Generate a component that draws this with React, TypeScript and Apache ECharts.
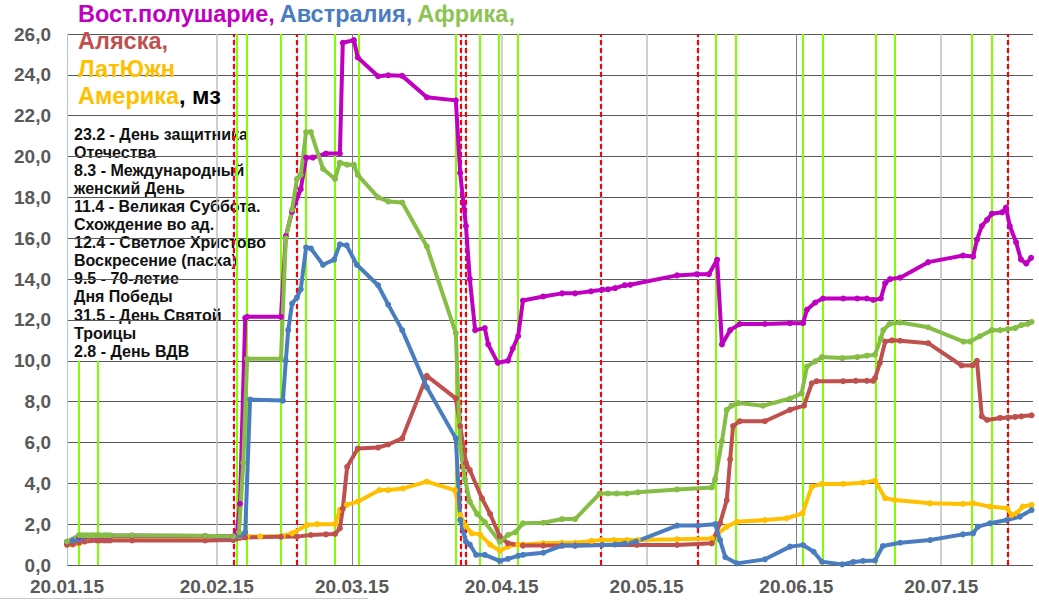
import React, { useEffect, useRef } from "react";
import * as echarts from "echarts";

// x values are days counted from 20.01.2015
const xTickDays = [0, 31, 59, 90, 120, 151, 181];
const xTickLabels = ["20.01.15", "20.02.15", "20.03.15", "20.04.15", "20.05.15", "20.06.15", "20.07.15"];
const xDarkTickDays = [59, 151];

const seriesNames = ["Вост.полушарие", "Австралия", "Африка", "Аляска", "ЛатЮжн Америка"];
const seriesColors = ["#C000C0", "#4A7DC0", "#86BD45", "#C0504D", "#FFC000"];

const vostData = [
  [0, 1.12], [2.5, 1.4], [3.1, 1.43], [3.7, 1.43], [4.3, 1.43], [5.0, 1.43], [5.6, 1.43], [6.2, 1.43], [6.8, 1.43],
  [7.7, 1.43], [8.3, 1.43], [8.9, 1.43], [13.5, 1.43], [28.6, 1.42], [34.4, 1.4], [35.2, 1.6], [35.8, 3.0],
  [36.9, 12.1], [37.3, 12.15], [44.3, 12.15], [45.3, 16.1], [46.6, 17.3], [48.4, 18.4], [49.5, 19.95], [50.9, 19.95],
  [53.6, 20.15], [56.5, 20.15], [57.1, 25.57], [59.4, 25.7], [60.2, 24.85], [64.4, 23.93], [66.5, 23.98], [69.4, 23.95],
  [74.5, 22.9], [80.5, 22.75], [81.4, 19.2], [82.6, 16.6], [83.4, 14.0], [84.5, 11.5], [86.5, 11.6], [87.2, 10.8],
  [89.2, 9.9], [91.3, 10.0], [92.3, 10.6], [93.4, 11.2], [94.4, 12.95], [98.6, 13.15], [102.5, 13.3], [105.2, 13.3],
  [108.5, 13.4], [110.8, 13.48], [112.0, 13.5], [113.5, 13.56], [115.5, 13.7], [116.6, 13.72], [126.3, 14.18],
  [130.4, 14.24], [132.9, 14.24], [134.6, 14.95], [135.6, 10.8], [137.3, 11.5], [139.3, 11.8], [144.5, 11.8],
  [149.7, 11.84], [152.4, 11.84], [153.2, 12.5], [154.9, 12.85], [156.5, 13.05], [160.7, 13.05], [163.6, 13.05],
  [165.6, 13.05], [166.9, 12.98], [168.5, 13.05], [169.4, 13.8], [170.4, 14.0], [172.5, 14.07], [178.3, 14.83],
  [185.5, 15.15], [187.6, 15.1], [188.4, 15.93], [189.4, 16.6], [190.5, 16.9], [191.5, 17.2], [193.6, 17.27],
  [194.4, 17.5], [195.2, 16.6], [196.5, 15.8], [197.5, 14.96], [198.6, 14.76], [199.6, 15.04],
];

const australiaData = [
  [0, 1.14], [1.2, 1.2], [2.5, 1.26], [3.1, 1.35], [3.7, 1.4], [4.3, 1.42], [5.0, 1.43], [6.2, 1.43], [8.9, 1.43],
  [13.5, 1.43], [28.6, 1.42], [34.4, 1.38], [35.8, 1.45], [36.9, 1.6], [37.9, 8.1], [44.7, 8.05], [45.3, 10.0],
  [45.8, 11.5], [46.6, 12.8], [47.6, 13.1], [48.4, 13.5], [49.5, 15.55], [50.5, 15.5], [53.0, 14.7], [55.3, 14.95],
  [56.5, 15.7], [57.9, 15.65], [60.0, 14.7], [64.4, 13.7], [66.5, 12.75], [69.4, 11.5], [74.5, 8.7], [80.5, 6.2],
  [81.4, 2.2], [82.6, 1.14], [83.4, 1.0], [84.7, 0.5], [86.5, 0.5], [89.6, 0.2], [91.3, 0.3], [93.4, 0.45],
  [94.4, 0.5], [98.6, 0.6], [102.5, 0.95], [105.2, 0.95], [110.8, 0.98], [113.5, 1.0], [115.5, 1.05], [117.8, 1.14],
  [126.3, 1.93], [130.6, 1.93], [134.2, 2.0], [135.2, 1.22], [136.3, 0.38], [138.7, 0.08], [144.5, 0.28],
  [149.7, 0.9], [152.4, 0.98], [154.6, 0.65], [156.3, 0.16], [160.5, 0.03], [162.8, 0.15], [164.8, 0.2],
  [167.3, 0.22], [168.9, 0.93], [172.5, 1.09], [178.7, 1.22], [185.5, 1.5], [187.6, 1.55], [188.6, 1.88],
  [191.1, 2.04], [194.6, 2.2], [197.3, 2.37], [199.7, 2.69],
];

const africaData = [
  [0, 1.14], [2.5, 1.46], [3.1, 1.45], [3.7, 1.45], [4.3, 1.45], [5.0, 1.45], [5.6, 1.45], [6.2, 1.45], [6.8, 1.45],
  [7.7, 1.45], [8.3, 1.45], [8.9, 1.45], [13.5, 1.45], [28.6, 1.43], [34.4, 1.4], [35.6, 1.6], [36.5, 5.0],
  [37.3, 10.1], [44.3, 10.1], [45.3, 16.0], [46.6, 17.4], [47.6, 18.9], [48.4, 19.1], [49.5, 21.2], [50.5, 21.2],
  [53.0, 19.4], [55.5, 18.9], [56.5, 19.7], [58.0, 19.6], [59.4, 19.6], [60.2, 19.1], [64.4, 18.0], [66.5, 17.8],
  [69.4, 17.75], [74.5, 15.6], [80.5, 11.35], [81.4, 5.8], [82.4, 4.2], [83.4, 3.1], [84.9, 2.5], [86.5, 2.1],
  [89.6, 1.14], [91.3, 1.47], [92.8, 1.6], [94.4, 2.04], [98.6, 2.07], [102.5, 2.25], [105.2, 2.25], [110.3, 3.5],
  [112.0, 3.5], [113.8, 3.5], [115.9, 3.5], [118.2, 3.56], [126.3, 3.7], [133.5, 3.8], [134.2, 4.2], [135.6, 6.06],
  [136.6, 7.6], [137.6, 7.8], [139.0, 7.93], [144.1, 7.8], [149.7, 8.15], [152.1, 8.4], [153.2, 9.72], [154.9, 9.97],
  [156.3, 10.18], [160.5, 10.13], [163.6, 10.18], [165.6, 10.25], [167.3, 10.3], [168.5, 11.1], [169.0, 11.5],
  [170.3, 11.8], [172.5, 11.87], [178.3, 11.64], [185.6, 10.94], [187.0, 10.94], [189.0, 11.2], [191.5, 11.5],
  [193.2, 11.5], [194.8, 11.55], [196.3, 11.6], [197.6, 11.75], [198.9, 11.8], [199.7, 11.9],
];

const alaskaData = [
  [0, 1.0], [1.2, 1.02], [2.5, 1.1], [3.7, 1.15], [6.2, 1.2], [6.8, 1.2], [7.7, 1.2], [8.3, 1.2], [8.9, 1.2],
  [13.5, 1.2], [28.6, 1.2], [34.4, 1.22], [36.9, 1.35], [44.3, 1.38], [47.6, 1.39], [50.5, 1.47], [53.6, 1.5],
  [55.5, 1.52], [56.5, 1.8], [57.1, 2.75], [58.0, 4.8], [60.2, 5.7], [64.4, 5.75], [66.5, 5.9], [69.4, 6.2],
  [74.5, 9.26], [80.5, 8.16], [81.4, 6.8], [82.6, 5.0], [83.4, 4.65], [85.9, 3.27], [87.6, 2.5], [89.6, 1.4],
  [91.3, 1.06], [94.4, 0.95], [98.6, 0.95], [102.5, 0.95], [105.2, 0.95], [110.8, 0.98], [118.0, 0.98],
  [126.3, 0.98], [133.5, 1.06], [135.2, 2.04], [136.6, 3.18], [137.3, 5.17], [137.9, 6.8], [139.3, 7.04],
  [144.5, 7.04], [149.7, 7.6], [152.6, 7.8], [154.2, 8.9], [155.2, 9.0], [160.7, 9.0], [163.3, 9.02], [165.6, 9.02],
  [166.9, 9.02], [167.3, 9.15], [168.3, 9.9], [169.4, 10.94], [170.8, 11.0], [172.5, 10.98], [178.3, 10.86],
  [185.2, 9.77], [187.5, 9.77], [188.4, 10.0], [189.4, 7.28], [190.5, 7.1], [193.2, 7.2], [194.8, 7.22],
  [196.3, 7.25], [197.6, 7.28], [199.7, 7.33],
];

const latAmData = [
  [0, 0.98], [1.2, 1.0], [2.5, 1.06], [3.7, 1.15], [6.2, 1.3], [6.8, 1.35], [7.7, 1.38], [8.9, 1.38], [13.5, 1.38],
  [28.6, 1.38], [34.4, 1.38], [35.8, 1.42], [37.3, 1.39], [40.0, 1.4], [44.7, 1.42], [46.6, 1.55], [49.7, 1.96],
  [51.8, 2.0], [55.5, 2.0], [56.5, 2.7], [57.9, 2.94], [60.2, 3.1], [64.7, 3.67], [66.5, 3.67], [69.6, 3.75],
  [74.5, 4.08], [80.3, 3.67], [81.4, 2.45], [82.6, 1.9], [83.8, 1.55], [85.5, 1.5], [87.6, 1.0], [89.6, 0.7],
  [91.3, 0.9], [93.4, 1.0], [94.4, 1.0], [98.6, 1.06], [102.5, 1.09], [105.2, 1.09], [108.6, 1.18], [110.7, 1.22],
  [113.2, 1.22], [115.9, 1.22], [118.2, 1.22], [126.3, 1.26], [133.5, 1.3], [136.6, 1.88], [138.7, 2.12],
  [144.5, 2.2], [149.0, 2.29], [152.3, 2.53], [154.2, 3.84], [156.3, 3.97], [160.7, 3.97], [164.8, 4.03],
  [167.3, 4.13], [169.4, 3.27], [171.4, 3.18], [178.7, 3.02], [185.5, 2.99], [187.6, 3.02], [191.1, 2.86],
  [194.6, 2.78], [195.6, 2.45], [196.6, 2.53], [197.9, 2.86], [199.7, 2.94],
];

const redDashedDays = [34.6, 47.6, 81.6, 82.6, 110.6, 130.6, 194.8];
const greenLineDays = [35.2, 37.3, 44.3, 49.5, 55.5, 60.5, 80.5, 85.5, 89.4, 93.4, 134.4, 138.5, 152.4, 156.5, 167.5, 171.4, 187.4, 191.5];
const shortGreenDays = [2.5, 6.4];
const shortGreenTop = 10;

const holidayNotes = [
  "23.2 - День защитника",
  "Отечества",
  "8.3 - Международный",
  "женский День",
  "11.4 - Великая Суббота.",
  "Схождение во ад.",
  "12.4 - Светлое Христово",
  "Воскресение (пасха)",
  "9.5 - 70-летие",
  "Дня Победы",
  "31.5 - День Святой",
  "Троицы",
  "2.8 - День ВДВ",
];

const FONT = '"Liberation Sans", Arial, sans-serif';

export default function App() {
  const ref = useRef<HTMLDivElement>(null);

  useEffect(() => {
    document.body.style.margin = "0";
    const chart = echarts.init(ref.current!, undefined, { renderer: "svg" });

    const dataSets = [vostData, australiaData, africaData, alaskaData, latAmData];
    const drawOrder = [4, 3, 1, 0, 2];

    const lineSeries = drawOrder.map((i) => ({
      name: seriesNames[i],
      type: "line",
      data: dataSets[i],
      z: 3,
      showSymbol: true,
      showAllSymbol: true,
      symbol: "circle",
      symbolSize: 6,
      lineStyle: { width: 4, color: seriesColors[i] },
      itemStyle: { color: seriesColors[i] },
      silent: true,
    }));

    const markSeries = {
      type: "line",
      data: [],
      z: 1,
      silent: true,
      markLine: {
        z: 1,
        silent: true,
        symbol: ["none", "none"],
        label: { show: false },
        data: [
          ...xTickDays.filter((d) => d > 0).map((d) => ({
            xAxis: d,
            lineStyle: xDarkTickDays.includes(d)
              ? { color: "#7f7f7f", width: 1, type: "solid" }
              : { color: "#bfbfbf", width: 1.5, type: "solid" },
          })),
          ...greenLineDays.map((d) => ({ xAxis: d, lineStyle: { color: "#80ff00", width: 2, type: "solid" } })),
          ...shortGreenDays.map((d) => [
            { coord: [d, 0], lineStyle: { color: "#80ff00", width: 2, type: "solid" } },
            { coord: [d, shortGreenTop] },
          ]),
          ...redDashedDays.map((d) => ({ xAxis: d, lineStyle: { color: "#9fd6f0", width: 1, type: "solid" } })),
          ...redDashedDays.map((d) => ({ xAxis: d, lineStyle: { color: "#ff0000", width: 2.2, type: [5, 3] } })),
        ],
      },
    };

    const titleStyle = (color: string) => ({
      color,
      fontSize: 23.5,
      fontWeight: "bold",
      fontFamily: FONT,
      lineHeight: 27.5,
    });

    chart.setOption({
      animation: false,
      backgroundColor: "#ffffff",
      grid: { left: 67, right: 6, top: 34, bottom: 35 },
      title: {
        left: 78,
        top: 0,
        padding: 0,
        text:
          "{m|Вост.полушарие,} {b|Австралия,} {g|Африка,}\n{r|Аляска,}\n{o|ЛатЮжн}\n{o|Америка}{k|, мз}",
        textStyle: {
          rich: {
            m: titleStyle(seriesColors[0]),
            b: titleStyle(seriesColors[1]),
            g: titleStyle("#8DC352"),
            r: titleStyle(seriesColors[3]),
            o: titleStyle(seriesColors[4]),
            k: titleStyle("#000000"),
          },
        },
      },
      xAxis: {
        type: "value",
        min: 0,
        max: 200,
        axisLine: { show: false },
        axisTick: { show: false },
        splitLine: { show: false },
        axisLabel: {
          customValues: xTickDays,
          margin: 12,
          color: "#595959",
          fontSize: 19,
          fontWeight: "bold",
          fontFamily: FONT,
          formatter: (v: number) => {
            const i = xTickDays.indexOf(Math.round(v));
            return i >= 0 ? xTickLabels[i] : "";
          },
        },
      },
      yAxis: {
        type: "value",
        min: 0,
        max: 26,
        interval: 2,
        axisLine: { show: true, lineStyle: { color: "#a8cbe3", width: 1 } },
        axisTick: { show: false },
        splitLine: { show: true, lineStyle: { color: "#595959", width: 1 } },
        axisLabel: {
          margin: 16,
          color: "#595959",
          fontSize: 19,
          fontWeight: "bold",
          fontFamily: FONT,
          formatter: (v: number) => v.toFixed(1).replace(".", ","),
        },
      },
      graphic: [
        {
          type: "text",
          x: 74,
          y: 125,
          silent: true,
          style: {
            text: holidayNotes.join("\n"),
            font: `bold 16px ${FONT}`,
            lineHeight: 18.1,
            fill: "#111111",
          },
        },
        {
          type: "line",
          silent: true,
          shape: { x1: 0, y1: 598.5, x2: 368, y2: 598.5 },
          style: { stroke: "#c8c8c8", lineWidth: 1 },
        },
      ],
      series: [markSeries, ...lineSeries],
    });

    return () => chart.dispose();
  }, []);

  return <div ref={ref} style={{ width: 1039, height: 600 }} />;
}
